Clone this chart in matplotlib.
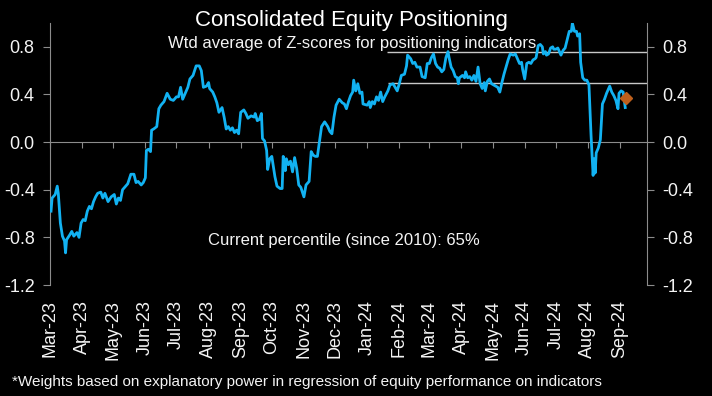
import pandas as pd
import matplotlib.pyplot as plt
import matplotlib.dates as mdates
from matplotlib.ticker import FormatStrFormatter

plt.rcParams['font.family'] = ['Liberation Sans', 'DejaVu Sans']
plt.rcParams['axes.unicode_minus'] = False

# data: days since 1 Mar 2023 and weighted z-score
start = pd.Timestamp('2023-03-01')
days = [1, 2, 5, 7, 8, 10, 12, 14, 15, 16, 19, 21, 23, 26, 28, 30, 32, 34, 36, 38,
        40, 42, 44, 46, 49, 51, 53, 56, 59, 62, 64, 66, 68, 70, 73, 75, 78, 81, 83, 85,
        88, 90, 92, 93, 95, 97, 98, 100, 103, 105, 107, 110, 113, 116, 119, 122, 124, 126, 128, 130,
        133, 135, 138, 141, 144, 146, 148, 151, 153, 154, 157, 159, 161, 163, 166, 168, 170, 172, 174, 176,
        178, 180, 182, 184, 187, 189, 191, 194, 197, 198, 200, 202, 204, 205, 207, 209, 210, 212, 214, 217,
        219, 222, 224, 225, 227, 228, 230, 232, 234, 236, 238, 240, 242, 245, 247, 250, 252, 254, 256, 258,
        261, 262, 265, 268, 270, 272, 274, 276, 279, 282, 284, 286, 288, 290, 292, 293, 295, 297, 299, 301,
        302, 306, 308, 309, 311, 313, 315, 317, 319, 321, 323, 326, 328, 331, 333, 335, 337, 339, 342, 344,
        345, 348, 350, 352, 354, 357, 359, 362, 364, 366, 368, 370, 372, 374, 376, 378, 380, 382, 384, 385,
        387, 389, 391, 393, 394, 395, 398, 400, 401, 403, 405, 407, 409, 411, 413, 415, 417, 419, 420, 422,
        424, 426, 428, 430, 432, 434, 436, 438, 440, 442, 444, 447, 449, 451, 453, 455, 456, 458, 460, 462,
        464, 466, 468, 469, 471, 473, 475, 476, 478, 479, 481, 483, 485, 486, 488, 490, 491, 493, 495, 497,
        499, 501, 503, 504, 506, 508, 509, 511, 512, 514, 516, 518, 520, 521, 522, 524, 525, 526, 527, 529,
        531, 533, 535, 537, 540, 542, 544, 546, 548, 549, 551, 553, 555]
zscore = [-0.58, -0.47, -0.44, -0.37, -0.43, -0.68, -0.79, -0.83, -0.93, -0.82, -0.78, -0.75, -0.79, -0.76, -0.80, -0.68, -0.65, -0.66, -0.58, -0.54,
          -0.56, -0.50, -0.46, -0.43, -0.42, -0.47, -0.43, -0.50, -0.46, -0.44, -0.52, -0.47, -0.49, -0.40, -0.37, -0.35, -0.27, -0.27, -0.34, -0.33,
          -0.36, -0.34, -0.30, -0.07, -0.06, -0.08, 0.10, 0.11, 0.13, 0.28, 0.31, 0.34, 0.41, 0.36, 0.35, 0.38, 0.38, 0.46, 0.36, 0.40,
          0.46, 0.53, 0.56, 0.64, 0.64, 0.60, 0.46, 0.47, 0.50, 0.45, 0.42, 0.38, 0.33, 0.25, 0.29, 0.21, 0.11, 0.13, 0.10, 0.12,
          0.08, 0.10, 0.07, 0.25, 0.27, 0.24, 0.20, 0.22, 0.21, 0.24, 0.18, 0.19, 0.24, 0.03, 0.01, -0.07, -0.23, -0.14, -0.12, -0.29,
          -0.37, -0.39, -0.39, -0.12, -0.24, -0.14, -0.19, -0.16, -0.25, -0.13, -0.22, -0.36, -0.38, -0.46, -0.36, -0.33, -0.08, -0.11, -0.12, -0.12,
          0.07, 0.13, 0.17, 0.13, 0.09, 0.07, 0.21, 0.31, 0.36, 0.33, 0.32, 0.28, 0.34, 0.39, 0.42, 0.52, 0.43, 0.49, 0.41, 0.42,
          0.32, 0.31, 0.34, 0.29, 0.34, 0.32, 0.38, 0.35, 0.42, 0.34, 0.38, 0.43, 0.48, 0.49, 0.46, 0.43, 0.49, 0.56, 0.57, 0.64,
          0.73, 0.70, 0.66, 0.67, 0.63, 0.63, 0.55, 0.54, 0.66, 0.66, 0.71, 0.74, 0.66, 0.63, 0.62, 0.59, 0.61, 0.71, 0.76, 0.71,
          0.63, 0.60, 0.55, 0.54, 0.49, 0.54, 0.56, 0.54, 0.59, 0.54, 0.55, 0.52, 0.56, 0.51, 0.63, 0.49, 0.45, 0.50, 0.43, 0.51,
          0.53, 0.49, 0.48, 0.47, 0.46, 0.42, 0.50, 0.57, 0.63, 0.69, 0.74, 0.73, 0.74, 0.70, 0.66, 0.67, 0.61, 0.53, 0.66, 0.67,
          0.66, 0.69, 0.70, 0.71, 0.81, 0.82, 0.80, 0.74, 0.76, 0.73, 0.74, 0.79, 0.80, 0.78, 0.78, 0.79, 0.77, 0.73, 0.77, 0.79,
          0.86, 0.93, 0.93, 1.00, 0.93, 0.93, 0.89, 0.91, 0.67, 0.54, 0.52, 0.52, 0.48, 0.28, 0.06, -0.28, -0.14, -0.26, -0.09, -0.05,
          0.02, 0.32, 0.36, 0.41, 0.47, 0.42, 0.39, 0.35, 0.28, 0.41, 0.43, 0.42, 0.29]

# latest estimate (diamond) and the two reference levels
latest_day, latest_value = 556, 0.37
ref_levels = [0.76, 0.50]
ref_start_days = [325, 326]

dates = start + pd.to_timedelta(days, unit='D')
latest_date = start + pd.Timedelta(days=latest_day)
ref_starts = [start + pd.Timedelta(days=d) for d in ref_start_days]
x_end = pd.Timestamp('2024-09-27')

BLUE = '#12b2f2'
ORANGE = '#bd5f1c'
GREY = '#8c8c8c'
TXT = '#f4f4f4'

fig = plt.figure(figsize=(7.12, 3.96), dpi=100, facecolor='black')
ax = fig.add_axes([50 / 712, 1 - 285 / 396, 597 / 712, 262 / 396])
ax.set_facecolor('black')

for lvl, x0 in zip(ref_levels, ref_starts):
    ax.hlines(lvl, x0, x_end, color='#c8c8c8', lw=1.0, zorder=2)

ax.plot(dates, zscore, color=BLUE, lw=2.0, zorder=3)
ax.plot([latest_date], [latest_value], marker='D', ms=6.5, color=ORANGE, ls='none', zorder=4)

ax.set_xlim(start, x_end)
ax.set_ylim(-1.2, 1.0)
ax.set_yticks([-1.2, -0.8, -0.4, 0.0, 0.4, 0.8])
ax.yaxis.set_major_formatter(FormatStrFormatter('%.1f'))

for side in ['top', 'right']:
    ax.spines[side].set_visible(False)
ax.spines['left'].set_color(GREY)
ax.spines['bottom'].set_color(GREY)
ax.spines['bottom'].set_position(('data', 0))

ax.xaxis.set_major_locator(mdates.MonthLocator())
ax.tick_params(axis='x', length=4, color=GREY, labelbottom=False)
ax.tick_params(axis='y', length=5, color=GREY, labelcolor=TXT, labelsize=13, pad=6)

# month labels at the bottom of the panel
sec = ax.secondary_xaxis('bottom')
sec.xaxis.set_major_locator(mdates.MonthLocator())
sec.xaxis.set_major_formatter(mdates.DateFormatter('%b-%y'))
sec.spines['bottom'].set_visible(False)
sec.tick_params(length=0, pad=11, labelsize=13, labelcolor=TXT, labelrotation=90)

ax2 = ax.twinx()
ax2.set_ylim(ax.get_ylim())
ax2.set_yticks(ax.get_yticks())
ax2.yaxis.set_major_formatter(FormatStrFormatter('%.1f'))
for side in ['top', 'left', 'bottom']:
    ax2.spines[side].set_visible(False)
ax2.spines['right'].set_color(GREY)
ax2.tick_params(axis='y', length=5, color=GREY, labelcolor=TXT, labelsize=13, pad=6)

fig.text(0.494, 0.934, 'Consolidated Equity Positioning', color='white',
         fontsize=16, ha='center', va='baseline')
fig.text(0.494, 0.879, 'Wtd average of Z-scores for positioning indicators', color=TXT,
         fontsize=12, ha='center', va='baseline')
fig.text(0.292, 0.381, 'Current percentile (since 2010): 65%', color=TXT,
         fontsize=12, ha='left', va='baseline')
fig.text(0.017, 0.025, '*Weights based on explanatory power in regression of equity performance on indicators',
         color=TXT, fontsize=11, ha='left', va='baseline')

fig.savefig('out.png', dpi=100, facecolor='black')
